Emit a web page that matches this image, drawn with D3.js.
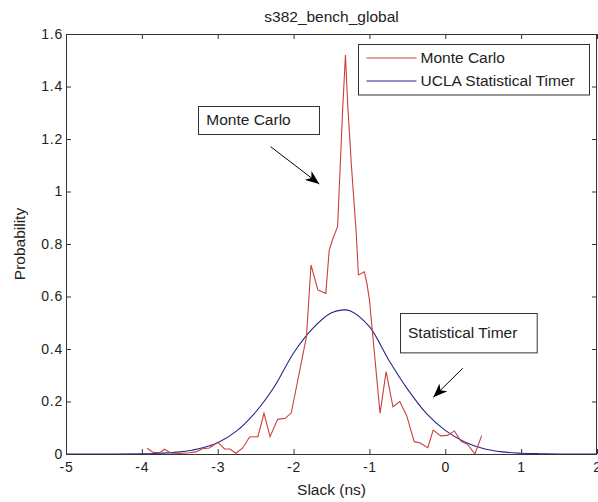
<!DOCTYPE html>
<html>
<head>
<meta charset="utf-8">
<script src="https://cdn.jsdelivr.net/npm/d3@7"></script>
<style>
  html, body { margin: 0; padding: 0; background: #fff; }
  svg { display: block; }
  text { font-family: "Liberation Sans", Arial, Helvetica, sans-serif; fill: #222; }
</style>
</head>
<body>
<svg id="chart" width="598" height="502"></svg>
<script>
// ---------- data ----------
const chartTitle = "s382_bench_global";
const xLabel = "Slack (ns)";
const yLabel = "Probability";
const seriesNames = ["Monte Carlo", "UCLA Statistical Timer"];

const xTicks = [-5, -4, -3, -2, -1, 0, 1, 2];
const yTicks = [0, 0.2, 0.4, 0.6, 0.8, 1, 1.2, 1.4, 1.6];

// Monte Carlo histogram
const mcSlack = [-3.93,-3.85,-3.76,-3.70,-3.62,-3.50,-3.37,-3.29,-3.20,-3.11,-3.00,-2.91,-2.84,-2.76,-2.67,-2.58,-2.47,-2.39,-2.31,-2.21,-2.11,-2.03,-1.83,-1.77,-1.68,-1.575,-1.53,-1.48,-1.42,-1.35,-1.316,-1.286,-1.24,-1.21,-1.175,-1.145,-1.066,-1.03,-1.0,-0.86,-0.78,-0.69,-0.60,-0.51,-0.41,-0.33,-0.23,-0.16,-0.06,0.03,0.12,0.21,0.29,0.39,0.48];
const mcProb  = [0.022,0.006,0.006,0.018,0.004,0.002,0.005,0.008,0.020,0.023,0.045,0.019,0.019,0.003,0.023,0.065,0.066,0.155,0.066,0.132,0.136,0.157,0.447,0.72,0.625,0.612,0.777,0.822,0.866,1.33,1.52,1.33,1.11,0.987,0.847,0.682,0.694,0.644,0.587,0.155,0.314,0.18,0.2,0.147,0.047,0.042,0.024,0.091,0.069,0.071,0.088,0.047,0.038,0.0,0.07];

// UCLA Statistical Timer curve
const stSlack = [-5,-4.5,-4,-3.75,-3.5,-3.25,-3,-2.75,-2.5,-2.25,-2,-1.75,-1.5,-1.35,-1.25,-1,-0.75,-0.5,-0.25,0,0.25,0.5,0.75,1,1.25,1.5,2];
const stProb  = [0,0,0.001,0.003,0.008,0.02,0.043,0.088,0.16,0.258,0.385,0.478,0.538,0.549,0.545,0.485,0.36,0.248,0.155,0.09,0.047,0.021,0.008,0.003,0.001,0,0];

// text annotations, anchored in data coordinates
const annotationTexts = ["Monte Carlo", "Statistical Timer"];
const annotationBoxes = [[-3.256, 1.3257, -1.661, 1.219], [-0.597, 0.536, 1.205, 0.386]];
const annotationArrows = [[-2.302, 1.1707, -1.661, 1.0286], [0.230, 0.3265, -0.158, 0.216]];

// ---------- layout ----------
const W = 598, H = 502;
const m = { left: 66, right: 1, top: 34, bottom: 48 };
const x = d3.scaleLinear().domain([-5, 2]).range([m.left, W - m.right]);
const y = d3.scaleLinear().domain([0, 1.6]).range([H - m.bottom, m.top]);
const colRed = "#c9403f", colBlue = "#25258c", axisCol = "#333";
const fsTick = "14px", fsText = "15.5px";

const svg = d3.select("#chart");
svg.append("rect").attr("width", W).attr("height", H).attr("fill", "#fff");

svg.append("defs").append("clipPath").attr("id", "clip")
  .append("rect").attr("x", x(-5)).attr("y", y(1.6))
  .attr("width", x(2) - x(-5)).attr("height", y(0) - y(1.6));

const fmt = d => String(+d.toFixed(1));

// axes (ticks inward)
const gB = svg.append("g").attr("transform", `translate(0,${y(0)})`)
  .call(d3.axisBottom(x).tickValues(xTicks).tickFormat(fmt).tickSizeInner(-5).tickSizeOuter(0).tickPadding(8));
const gT = svg.append("g").attr("transform", `translate(0,${y(1.6)})`)
  .call(d3.axisTop(x).tickValues(xTicks).tickFormat("").tickSizeInner(-5).tickSizeOuter(0));
const gL = svg.append("g").attr("transform", `translate(${x(-5)},0)`)
  .call(d3.axisLeft(y).tickValues(yTicks).tickFormat(fmt).tickSizeInner(-5).tickSizeOuter(0).tickPadding(3));
const gR = svg.append("g").attr("transform", `translate(${x(2)},0)`)
  .call(d3.axisRight(y).tickValues(yTicks).tickFormat("").tickSizeInner(-5).tickSizeOuter(0));
[gB, gT, gL, gR].forEach(g => {
  g.select(".domain").remove();
  g.selectAll(".tick line").attr("stroke", axisCol);
  g.selectAll("text").attr("font-size", fsTick).attr("fill", "#222")
    .style("letter-spacing", "0.8px")
    .style("font-family", '"Liberation Sans", Arial, sans-serif');
});

// lines
const plot = svg.append("g").attr("clip-path", "url(#clip)");
plot.append("path")
  .datum(stSlack.map((s, i) => [s, stProb[i]]))
  .attr("fill", "none").attr("stroke", colBlue).attr("stroke-width", 1.1)
  .attr("d", d3.line().x(d => x(d[0])).y(d => y(d[1])).curve(d3.curveCatmullRom.alpha(0.5)));
plot.append("path")
  .datum(mcSlack.map((s, i) => [s, mcProb[i]]))
  .attr("fill", "none").attr("stroke", colRed).attr("stroke-width", 1.1)
  .attr("d", d3.line().x(d => x(d[0])).y(d => y(d[1])));

// box
svg.append("rect").attr("x", x(-5) + 0.5).attr("y", y(1.6) + 0.5)
  .attr("width", x(2) - x(-5) - 1).attr("height", y(0) - y(1.6))
  .attr("fill", "none").attr("stroke", axisCol).attr("stroke-width", 1);

// title & labels
svg.append("text").attr("x", (x(-5) + x(2)) / 2).attr("y", 22)
  .attr("text-anchor", "middle").attr("font-size", fsText).text(chartTitle);
svg.append("text").attr("x", (x(-5) + x(2)) / 2).attr("y", 495)
  .attr("text-anchor", "middle").attr("font-size", fsText).text(xLabel);
svg.append("text").attr("transform", `translate(25,${(y(0) + y(1.6)) / 2}) rotate(-90)`)
  .attr("text-anchor", "middle").attr("font-size", fsText).text(yLabel);

// legend
const lg = svg.append("g");
const lgX = 358.5, lgY = 44.5, lgW = 231, lgH = 50.5;
lg.append("rect").attr("x", lgX).attr("y", lgY).attr("width", lgW).attr("height", lgH)
  .attr("fill", "#fff").attr("stroke", axisCol);
[colRed, colBlue].forEach((c, i) => {
  const yy = lgY + 13.5 + i * 23;
  lg.append("line").attr("x1", lgX + 8).attr("x2", lgX + 58).attr("y1", yy).attr("y2", yy)
    .attr("stroke", c).attr("stroke-width", 1.1);
  lg.append("text").attr("x", lgX + 62).attr("y", yy).attr("dy", "0.35em")
    .attr("font-size", fsText).text(seriesNames[i]);
});

// annotations
const defs = svg.select("defs");
defs.append("marker").attr("id", "ah").attr("viewBox", "0 0 14 11")
  .attr("refX", 14).attr("refY", 5.5).attr("markerWidth", 14).attr("markerHeight", 11)
  .attr("markerUnits", "userSpaceOnUse").attr("orient", "auto")
  .append("path").attr("d", "M0,0 L14,5.5 L0,11 L4,5.5 Z").attr("fill", "#000");

annotationTexts.forEach((t, i) => {
  const [x0, y0, x1, y1] = annotationBoxes[i];
  svg.append("rect").attr("x", Math.round(x(x0)) + 0.5).attr("y", Math.round(y(y0)) + 0.5)
    .attr("width", x(x1) - x(x0)).attr("height", y(y1) - y(y0))
    .attr("fill", "#fff").attr("stroke", axisCol);
  svg.append("text").attr("x", x(x0) + 8).attr("y", (y(y0) + y(y1)) / 2).attr("dy", "0.35em")
    .attr("font-size", fsText).text(t);
  const [a0, b0, a1, b1] = annotationArrows[i];
  svg.append("line").attr("x1", x(a0)).attr("y1", y(b0)).attr("x2", x(a1)).attr("y2", y(b1))
    .attr("stroke", "#000").attr("stroke-width", 1).attr("marker-end", "url(#ah)");
});
</script>
</body>
</html>
